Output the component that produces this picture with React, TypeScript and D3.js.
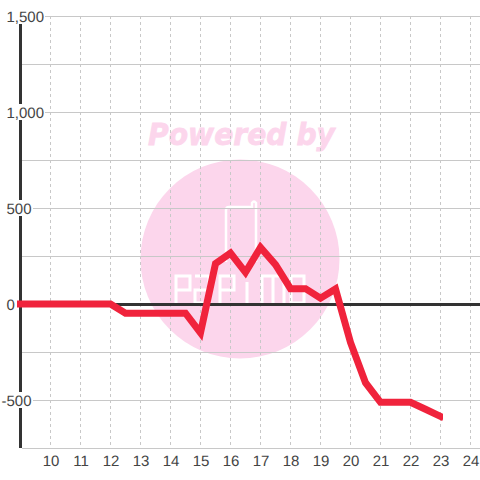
import React from "react";
import * as d3 from "d3";

const hours = [9,9.5,10,10.5,11,11.5,12,12.5,13,13.5,14,14.5,15,15.5,16,16.5,17,17.5,18,18.5,19,19.5,20,20.5,21,21.5,22,22.5,23];
const values = [0,0,0,0,0,0,0,-48,-48,-48,-48,-48,-150,210,265,165,295,205,80,80,30,78,-200,-410,-512,-512,-512,-548,-585];
const xTicks = [10,11,12,13,14,15,16,17,18,19,20,21,22,23,24];
const yTicks = [1500,1000,500,0,-500];
const yGrid = [1500,1250,1000,750,500,250,0,-250,-500,-750];

const x = d3.scaleLinear().domain([10, 24]).range([50.5, 470.5]);
const y = d3.scaleLinear().domain([1500, -750]).range([16, 448]);
const line = d3.line<number>().x((_, i) => x(hours[i])).y(d => y(d)).curve(d3.curveLinear);
const font = "'Liberation Sans', Arial, sans-serif";
const pink = "#fcd6ec";
const fmt = (v: number) => d3.format(",")(v).replace("\u2212", "-");
const labelWidth = (s: string) => s.length === 1 ? 8 : s.length === 3 ? 24 : s.startsWith("-") ? 29 : 36;
const labelLeft = (v: number) => (v < 0 ? 2 : 7);
const logo = [
  "M176 304V276H190V290H176",
  "M195 276H209V303H195V290H207",
  "M220 304V276H234V290H220",
  "M247 282V303M247 273V275",
  "M262 304V276H284V304M273 276V304",
  "M291 276H304V303H291Z",
];

export default function App() {
  return (
    <svg width={480} height={480} style={{ position: "absolute", left: 0, top: 0, background: "#fff" }}>
      <defs>
        <clipPath id="plot"><rect x={17} y={0} width={426} height={480} /></clipPath>
      </defs>
      <text x={241.5} y={145} textAnchor="middle" fontFamily="'DejaVu Sans'" fontWeight="bold" fontStyle="italic" fontSize={31} textLength={187} lengthAdjust="spacingAndGlyphs" fill={pink} stroke={pink} strokeWidth={0.8}>Powered by</text>
      <circle cx={240} cy={259} r={99.5} fill={pink} />
      <path d="M226 262V210Q226 207 229 207H252V203Q254 200 256 203V262" fill="none" stroke="#fff" strokeWidth={2.5} />
      {logo.map(d => <path key={d} d={d} fill="none" stroke="#fff" strokeWidth={3} />)}
      {yGrid.map(v => <line key={v} x1={22} x2={480} y1={y(v) + 0.5} y2={y(v) + 0.5} stroke="#c8c8c8" strokeWidth={1} />)}
      {xTicks.map(v => <line key={v} x1={x(v)} x2={x(v)} y1={16} y2={448} stroke="#c8c8c8" strokeWidth={1} strokeDasharray="3 3" />)}
      <line x1={20.5} x2={20.5} y1={16} y2={448} stroke="#333" strokeWidth={3} />
      <line x1={20} x2={480} y1={y(0) + 0.5} y2={y(0) + 0.5} stroke="#333" strokeWidth={3} />
      {yTicks.map(v => {
        const s = fmt(v);
        return (
          <g key={v}>
            <rect x={labelLeft(v) - 2} y={y(v) - 8} width={labelWidth(s) + 4} height={16} fill="#fff" />
            <text x={labelLeft(v) - 0.5} y={y(v) + 5.5} fontFamily={font} fontSize={15} textRendering="geometricPrecision" fill="#444">{s}</text>
          </g>
        );
      })}
      {xTicks.map(v => (
        <text key={v} x={x(v) + 0.5} y={466} textAnchor="middle" fontFamily={font} fontSize={15} textRendering="geometricPrecision" fill="#444">{v}</text>
      ))}
      <path d={line(values) ?? ""} clipPath="url(#plot)" fill="none" stroke="#f0233c" strokeWidth={7} strokeLinecap="square" strokeLinejoin="miter" />
    </svg>
  );
}
